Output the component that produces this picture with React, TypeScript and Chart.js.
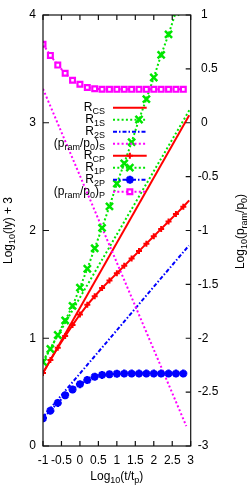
import React, { useEffect, useRef } from "react";
import { Chart, registerables } from "chart.js";

Chart.register(...registerables);

// x = log10(t/tp)
const tMarked = [-1, -0.8, -0.6, -0.4, -0.2, 0, 0.2, 0.4, 0.6, 0.8, 1, 1.2, 1.4, 1.6, 1.8, 2, 2.2, 2.4, 2.6, 2.8];
const tCP = [...tMarked, 2.96];
const rCP = [0.677, 0.797, 0.912, 1.02, 1.122, 1.22, 1.31, 1.39, 1.466, 1.535, 1.603, 1.672, 1.74, 1.809, 1.878, 1.946, 2.015, 2.083, 2.152, 2.221, 2.28];
const t1P = tMarked.slice(0, 19);
const r1P = [0.78, 0.9, 1.03, 1.165, 1.3, 1.47, 1.645, 1.835, 2.025, 2.224, 2.435, 2.623, 2.82, 3.03, 3.22, 3.42, 3.63, 3.82, 4.03];
const r2P = [0.257, 0.328, 0.4, 0.47, 0.525, 0.574, 0.613, 0.643, 0.66, 0.666, 0.67, 0.672, 0.672, 0.672, 0.672, 0.672, 0.672, 0.672, 0.672, 0.672];
const pramP = [0.728, 0.625, 0.535, 0.46, 0.395, 0.357, 0.327, 0.316, 0.311, 0.31, 0.31, 0.31, 0.31, 0.31, 0.31, 0.31, 0.31, 0.31, 0.31, 0.31];

const tCS = [-1, 2.96];
const rCS = [0.677, 3.07];
const t1S = [-1, 2.97];
const r1S = [0.79, 3.12];
const t2S = [-1, 2.95];
const r2S = [0.27, 1.86];
const tPramS = [-1, 2.88];
const pramS = [0.315, -2.815];

const xTickValues = [-1, -0.5, 0, 0.5, 1, 1.5, 2, 2.5, 3];
const xTickLabels = ["-1", "-0.5", "0", "0.5", "1", "1.5", "2", "2.5", "3"];
const yTickValues = [0, 1, 2, 3, 4];
const yTickLabels = ["0", "1", "2", "3", "4"];
const y2TickValues = [-3, -2.5, -2, -1.5, -1, -0.5, 0, 0.5, 1];
const y2TickLabels = ["-3", "-2.5", "-2", "-1.5", "-1", "-0.5", " 0", " 0.5", " 1"];

type Part = [string, boolean];
const seriesNames: Part[][] = [
  [["R", false], ["CS", true]],
  [["R", false], ["1S", true]],
  [["R", false], ["2S", true]],
  [["(p", false], ["ram", true], ["/p", false], ["0", true], [")", false], ["S", true]],
  [["R", false], ["CP", true]],
  [["R", false], ["1P", true]],
  [["R", false], ["2P", true]],
  [["(p", false], ["ram", true], ["/p", false], ["0", true], [")", false], ["P", true]],
];
const xTitle: Part[] = [["Log", false], ["10", true], ["(t/t", false], ["p", true], [")", false]];
const yTitle: Part[] = [["Log", false], ["10", true], ["(ly) + 3", false]];
const y2Title: Part[] = [["Log", false], ["10", true], ["(p", false], ["ram", true], ["/p", false], ["0", true], [")", false]];

const FAMILY = '"Liberation Sans", Arial, sans-serif';
const MAIN = `12px ${FAMILY}`;
const SUB = `9px ${FAMILY}`;

const RED = "#ff0000";
const GREEN = "#00e600";
const BLUE = "#0000ff";
const MAGENTA = "#ff00ff";
const DOT = [2, 2.3];
const DASHDOT = [4, 2, 1.5, 2];

const zip = (xs: number[], ys: number[]) => xs.map((x, i) => ({ x, y: ys[i] }));

function richWidth(ctx: CanvasRenderingContext2D, parts: Part[]) {
  let w = 0;
  for (const [t, sub] of parts) {
    ctx.font = sub ? SUB : MAIN;
    w += ctx.measureText(t).width;
  }
  return w;
}

function drawRich(ctx: CanvasRenderingContext2D, parts: Part[], x: number, y: number, align: "left" | "right" | "center") {
  const w = richWidth(ctx, parts);
  let cx = align === "left" ? x : align === "right" ? x - w : x - w / 2;
  ctx.textAlign = "left";
  ctx.textBaseline = "alphabetic";
  for (const [t, sub] of parts) {
    ctx.font = sub ? SUB : MAIN;
    ctx.fillText(t, cx, y + (sub ? 3 : 0));
    cx += ctx.measureText(t).width;
  }
}

function drawMarker(ctx: CanvasRenderingContext2D, style: string, x: number, y: number, r: number, lw: number, color: string) {
  ctx.save();
  ctx.setLineDash([]);
  ctx.strokeStyle = color;
  ctx.lineWidth = lw;
  ctx.beginPath();
  if (style === "cross" || style === "star") {
    ctx.moveTo(x - r, y);
    ctx.lineTo(x + r, y);
    ctx.moveTo(x, y - r);
    ctx.lineTo(x, y + r);
  }
  if (style === "crossRot" || style === "star") {
    const d = r * Math.SQRT1_2;
    ctx.moveTo(x - d, y - d);
    ctx.lineTo(x + d, y + d);
    ctx.moveTo(x - d, y + d);
    ctx.lineTo(x + d, y - d);
  }
  if (style === "rect") {
    const s = r * Math.SQRT1_2;
    ctx.fillStyle = "#fff";
    ctx.rect(x - s, y - s, 2 * s, 2 * s);
    ctx.fill();
  }
  ctx.stroke();
  ctx.restore();
}

const legendItems = [
  { color: RED, dash: [] as number[], marker: "" },
  { color: GREEN, dash: DOT, marker: "" },
  { color: BLUE, dash: DASHDOT, marker: "" },
  { color: MAGENTA, dash: DOT, marker: "" },
  { color: RED, dash: [] as number[], marker: "cross", r: 3, lw: 2 },
  { color: GREEN, dash: DOT, marker: "crossRot", r: 5, lw: 2.5 },
  { color: BLUE, dash: DASHDOT, marker: "star", r: 4, lw: 2.5 },
  { color: MAGENTA, dash: DOT, marker: "rect", r: 3.4, lw: 2.2 },
];

const overlay = {
  id: "overlay",
  afterDraw(chart: any) {
    const { ctx, chartArea: a, scales } = chart;
    ctx.save();
    ctx.strokeStyle = "#111";
    ctx.lineWidth = 1.2;
    ctx.strokeRect(a.left, a.top, a.right - a.left, a.bottom - a.top);
    ctx.beginPath();
    for (const t of scales.x.ticks) {
      const px = scales.x.getPixelForValue(t.value);
      ctx.moveTo(px, a.bottom);
      ctx.lineTo(px, a.bottom - 5);
      ctx.moveTo(px, a.top);
      ctx.lineTo(px, a.top + 5);
    }
    for (const t of scales.y.ticks) {
      const py = scales.y.getPixelForValue(t.value);
      ctx.moveTo(a.left, py);
      ctx.lineTo(a.left + 6, py);
    }
    for (const t of scales.y2.ticks) {
      const py = scales.y2.getPixelForValue(t.value);
      ctx.moveTo(a.right, py);
      ctx.lineTo(a.right - 5, py);
    }
    ctx.stroke();

    ctx.fillStyle = "#000";
    drawRich(ctx, xTitle, (a.left + a.right) / 2, 479.5, "center");
    ctx.save();
    ctx.translate(11.5, (a.top + a.bottom) / 2);
    ctx.rotate(-Math.PI / 2);
    drawRich(ctx, yTitle, 0, 0, "center");
    ctx.restore();
    ctx.save();
    ctx.translate(244, (a.top + a.bottom) / 2 + 1);
    ctx.rotate(-Math.PI / 2);
    drawRich(ctx, y2Title, 0, 0, "center");
    ctx.restore();

    // key
    const textRight = a.left + 62;
    const x0 = a.left + 70;
    const x1 = a.left + 103.7;
    legendItems.forEach((it, i) => {
      const y = a.top + 92.7 + 12 * i;
      ctx.fillStyle = "#000";
      drawRich(ctx, seriesNames[i], textRight, y + 3.5, "right");
      ctx.save();
      ctx.strokeStyle = it.color;
      ctx.lineWidth = 2;
      ctx.setLineDash(it.dash);
      ctx.beginPath();
      ctx.moveTo(x0, y);
      ctx.lineTo(x1, y);
      ctx.stroke();
      ctx.restore();
      if (it.marker) drawMarker(ctx, it.marker, (x0 + x1) / 2, y, it.r as number, it.lw as number, it.color);
    });
    ctx.restore();
  },
};

export default function App() {
  const ref = useRef<HTMLCanvasElement | null>(null);
  useEffect(() => {
    if (!ref.current) return;
    const tickFont = { family: FAMILY, size: 12 };
    const chart = new Chart(ref.current, {
      type: "line",
      data: {
        datasets: [
          { data: zip(tCS, rCS), borderColor: RED, borderWidth: 2, pointRadius: 0, yAxisID: "y", order: 0 },
          { data: zip(t1S, r1S), borderColor: GREEN, borderWidth: 2, borderDash: DOT, pointRadius: 0, yAxisID: "y", order: -1 },
          { data: zip(t2S, r2S), borderColor: BLUE, borderWidth: 2, borderDash: DASHDOT, pointRadius: 0, yAxisID: "y", order: -2 },
          { data: zip(tPramS, pramS), borderColor: MAGENTA, borderWidth: 2, borderDash: DOT, pointRadius: 0, yAxisID: "y2", order: -3 },
          {
            data: zip(tCP, rCP), borderColor: RED, borderWidth: 2, yAxisID: "y", order: -4,
            pointStyle: "cross", pointRadius: tCP.map((_, i) => (i < tMarked.length ? 3 : 0)), pointBorderWidth: 2, pointBorderColor: RED,
          },
          {
            data: zip(t1P, r1P), borderColor: GREEN, borderWidth: 2, borderDash: DOT, yAxisID: "y", order: -5,
            pointStyle: "crossRot", pointRadius: 5, pointBorderWidth: 2.5, pointBorderColor: GREEN,
          },
          {
            data: zip(tMarked, r2P), borderColor: BLUE, borderWidth: 2, borderDash: DASHDOT, yAxisID: "y", order: -6,
            pointStyle: "star", pointRadius: 4, pointBorderWidth: 2.5, pointBorderColor: BLUE,
          },
          {
            data: zip(tMarked, pramP), borderColor: MAGENTA, borderWidth: 2, borderDash: DOT, yAxisID: "y2", order: -7,
            pointStyle: "rect", pointRadius: 3.4, pointBorderWidth: 2.2, pointBorderColor: MAGENTA, pointBackgroundColor: "#fff",
          },
        ],
      },
      options: {
        responsive: false,
        animation: false,
        devicePixelRatio: 1,
        layout: { padding: { top: 15, left: 0, right: 0, bottom: 0 } },
        elements: { line: { tension: 0, borderCapStyle: "butt" } },
        plugins: { legend: { display: false }, tooltip: { enabled: false } },
        scales: {
          x: {
            type: "linear",
            position: "bottom",
            min: -1,
            max: 3,
            afterBuildTicks: (s: any) => { s.ticks = xTickValues.map((v) => ({ value: v })); },
            afterFit: (s: any) => { s.height = 52; },
            grid: { display: false, drawTicks: false },
            border: { display: false },
            ticks: {
              autoSkip: false, maxRotation: 0, minRotation: 0, padding: 7, color: "#000", font: tickFont,
              callback: (v: any) => xTickLabels[xTickValues.indexOf(Number(v))] ?? "",
            },
          },
          y: {
            type: "linear",
            position: "left",
            min: 0,
            max: 4,
            afterBuildTicks: (s: any) => { s.ticks = yTickValues.map((v) => ({ value: v })); },
            afterFit: (s: any) => { s.width = 43; },
            grid: { display: false, drawTicks: false },
            border: { display: false },
            ticks: {
              padding: 7, color: "#000", font: tickFont,
              callback: (v: any) => yTickLabels[yTickValues.indexOf(Number(v))] ?? "",
            },
          },
          y2: {
            type: "linear",
            position: "right",
            min: -3,
            max: 1,
            afterBuildTicks: (s: any) => { s.ticks = y2TickValues.map((v) => ({ value: v })); },
            afterFit: (s: any) => { s.width = 58.3; },
            grid: { display: false, drawTicks: false },
            border: { display: false },
            ticks: {
              padding: 7, color: "#000", font: tickFont,
              callback: (v: any) => y2TickLabels[y2TickValues.indexOf(Number(v))] ?? "",
            },
          },
        },
      },
      plugins: [overlay],
    } as any);
    return () => chart.destroy();
  }, []);
  return (
    <div style={{ position: "fixed", left: 0, top: 0, width: 249, height: 498, background: "#fff" }}>
      <canvas ref={ref} width={249} height={498} style={{ display: "block", width: 249, height: 498 }} />
    </div>
  );
}
